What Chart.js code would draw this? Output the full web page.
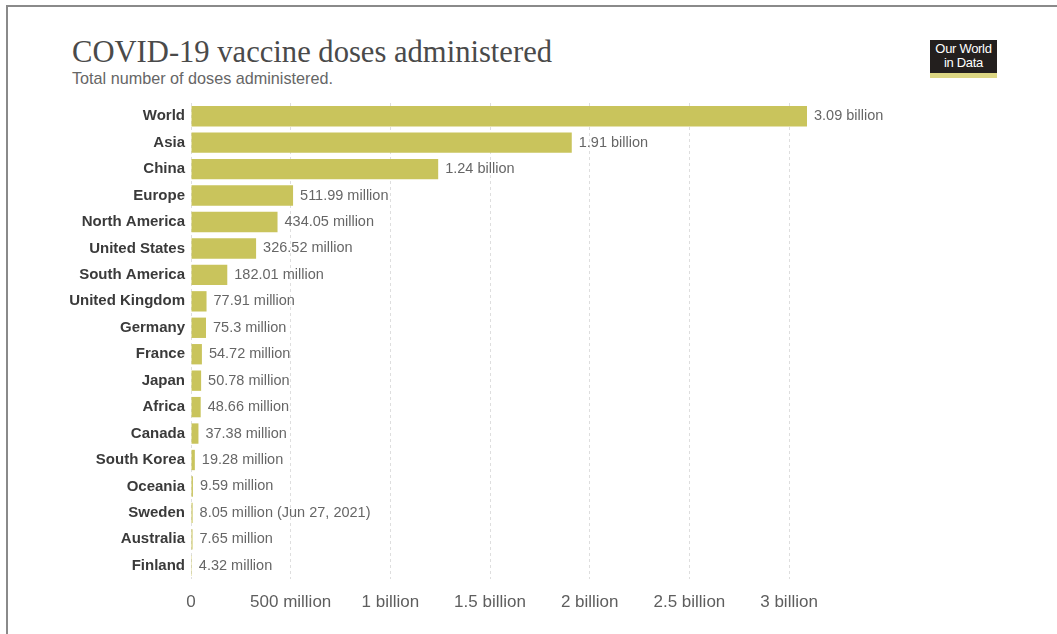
<!DOCTYPE html>
<html>
<head>
<meta charset="utf-8">
<script src="https://cdn.jsdelivr.net/npm/chart.js@4"></script>
<style>
  body { margin: 0; background: #fff; }
  #wrap { position: relative; width: 1057px; height: 634px; overflow: hidden; }
  #frame { position: absolute; left: 6px; top: 5px; right: -10px; bottom: -10px;
           border-top: 2px solid #8a8a8a; border-left: 2px solid #8a8a8a; }
  #title { position: absolute; left: 72px; top: 35px; margin: 0;
           font: 30.6px "Liberation Serif", "DejaVu Serif", serif; color: #4a4a4a; white-space: nowrap; }
  #subtitle { position: absolute; left: 72px; top: 69px; margin: 0;
              font: 16.2px "Liberation Sans", Arial, sans-serif; color: #666; white-space: nowrap; }
  #logo { position: absolute; left: 930px; top: 40px; width: 67px; height: 38px;
          background: #231f1e; color: #fff; text-align: center;
          font: 13px/14px "Liberation Sans", Arial, sans-serif; padding-top: 2px; box-sizing: border-box;
          border-bottom: 5px solid #dcd683; letter-spacing: -0.3px; }
  canvas { position: absolute; left: 0; top: 0; }
</style>
</head>
<body>
<div id="wrap">
  <div id="frame"></div>
  <h1 id="title">COVID-19 vaccine doses administered</h1>
  <p id="subtitle">Total number of doses administered.</p>
  <div id="logo">Our World<br>in Data</div>
  <canvas id="chart" width="1057" height="634"></canvas>
</div>
<script>
// doses in millions
var countries = ['World', 'Asia', 'China', 'Europe', 'North America', 'United States', 'South America',
    'United Kingdom', 'Germany', 'France', 'Japan', 'Africa', 'Canada', 'South Korea', 'Oceania',
    'Sweden', 'Australia', 'Finland'];
var doses = [3090, 1910, 1240, 511.99, 434.05, 326.52, 182.01, 77.91, 75.3, 54.72, 50.78, 48.66,
    37.38, 19.28, 9.59, 8.05, 7.65, 4.32];
var notes = ['', '', '', '', '', '', '', '', '', '', '', '', '', '', '', ' (Jun 27, 2021)', '', ''];
var x_tick_values = [0, 500, 1000, 1500, 2000, 2500, 3000];
var x_tick_labels = ['0', '500 million', '1 billion', '1.5 billion', '2 billion', '2.5 billion', '3 billion'];

var sans = '"Liberation Sans", Arial, sans-serif';

function fmt(v) {
    if (v >= 1000) return (v / 1000).toFixed(2) + ' billion';
    return v + ' million';
}

const value_labels = {
    id: 'valueLabels',
    afterDatasetsDraw(chart) {
        var ctx = chart.ctx;
        var meta = chart.getDatasetMeta(0);
        ctx.save();
        ctx.font = '14.5px ' + sans;
        ctx.fillStyle = '#666';
        ctx.textBaseline = 'middle';
        ctx.textAlign = 'left';
        meta.data.forEach(function(bar, i) {
            ctx.fillText(fmt(doses[i]) + notes[i], bar.x + 7, bar.y);
        });
        ctx.restore();
    }
};

const chart = new Chart(document.getElementById('chart'), {
    type: 'bar',
    data: {
        labels: countries,
        datasets: [{
            data: doses,
            backgroundColor: '#c9c45c',
            borderWidth: 0,
            categoryPercentage: 1,
            barPercentage: 0.77
        }]
    },
    options: {
        indexAxis: 'y',
        responsive: false,
        animation: false,
        layout: { padding: { top: 103, right: 250, left: 0, bottom: 0 } },
        plugins: { legend: { display: false }, tooltip: { enabled: false } },
        scales: {
            x: {
                min: 0,
                max: 3090,
                bounds: 'data',
                afterBuildTicks: function(s) {
                    s.ticks = x_tick_values.map(function(v) { return { value: v }; });
                },
                afterFit: function(s) { s.height = 55; },
                grid: { color: '#dedede', drawTicks: false },
                border: { display: false, dash: [3, 3] },
                ticks: {
                    padding: 13,
                    color: '#5e5e5e',
                    font: { family: sans, size: 17 },
                    maxRotation: 0,
                    autoSkip: false,
                    callback: function(v) { return x_tick_labels[x_tick_values.indexOf(v)]; }
                }
            },
            y: {
                afterFit: function(s) { s.width = 191; },
                grid: { display: false, drawTicks: false },
                border: { display: false },
                ticks: {
                    padding: 6,
                    color: '#3a3a3a',
                    font: { family: sans, size: 15, weight: 'bold' },
                    autoSkip: false
                }
            }
        }
    },
    plugins: [value_labels]
});
</script>
</body>
</html>
